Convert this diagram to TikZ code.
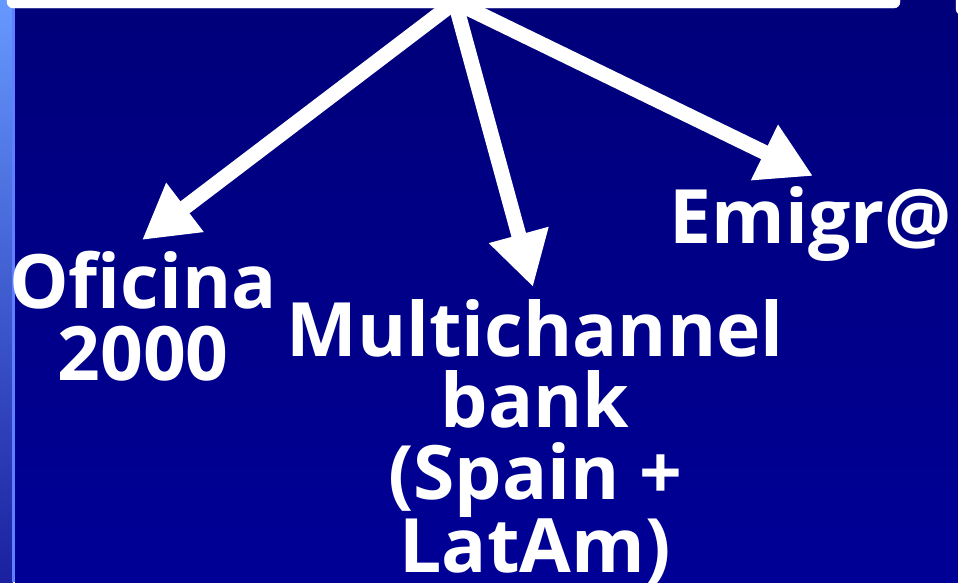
\documentclass[tikz,border=0pt]{standalone}
\usepackage{fontspec}
\usepackage{tikz}
\usetikzlibrary{arrows.meta,positioning}
\newfontfamily\slidefont{Open Sans}
\definecolor{slidetop}{HTML}{00007A}
\definecolor{slidebot}{HTML}{000096}
\definecolor{striptop}{HTML}{6699FF}
\definecolor{stripbot}{HTML}{1A20A0}
\definecolor{stripline}{HTML}{5C80FF}
\tikzset{
  topbox/.style={draw=white,fill=white,rounded corners=6pt,inner sep=0pt},
  lbl/.style={text=white,align=center,inner sep=0pt,anchor=base,
    font=\slidefont\bfseries\fontsize{75}{71.5}\selectfont},
  ar/.style={-{Triangle[length=54pt,width=58pt]},draw=white,fill=white,line width=15pt},
}

\begin{document}
\begin{tikzpicture}[x=1pt,y=-1pt]
  \useasboundingbox (0,0) rectangle (958,582);
  % slide background
  \shade[top color=striptop,bottom color=stripbot] (0,0) rectangle (13,582);
  \fill[stripline] (12,0) rectangle (15,582);
  \shade[top color=slidetop,bottom color=slidebot] (15,0) rectangle (958,582);

  \coordinate (hub) at (455,2);
  \coordinate (tipofi) at (142,240);
  \coordinate (tipmulti) at (533,287);
  \coordinate (tipemi) at (813,176);
  \draw[ar] (hub) -- (tipofi);
  \draw[ar] (hub) -- (tipmulti);
  \draw[ar] (hub) -- (tipemi);

  \node[topbox,minimum width=893pt,minimum height=40pt] (head) at (453.5,-12) {};
  \node[topbox,minimum width=40pt,minimum height=40pt] (next) at (976,-5) {};

  % anchor=base sits on the last line
  \node[lbl] (ofi) at (143,380) {Oficina\\2000};
  \node[lbl] (multi) at (535,572) {Multichannel\\bank\\(Spain +\\LatAm)};
  \node[lbl] (emi) at (811,243) {Emigr@};
\end{tikzpicture}
\end{document}
